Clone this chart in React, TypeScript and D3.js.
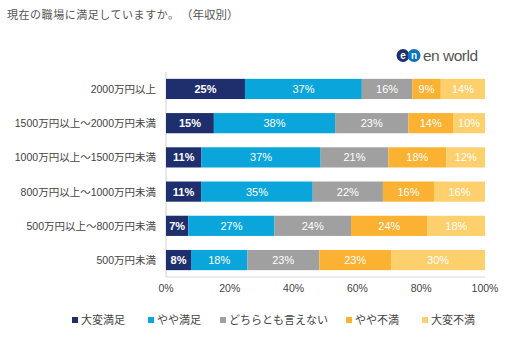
import React from "react";
import * as d3 from "d3";

const categories = [
  "2000万円以上",
  "1500万円以上～2000万円未満",
  "1000万円以上～1500万円未満",
  "800万円以上～1000万円未満",
  "500万円以上～800万円未満",
  "500万円未満",
];
const seriesNames = ["大変満足", "やや満足", "どちらとも言えない", "やや不満", "大変不満"];
const v1 = [25, 15, 11, 11, 7, 8];
const v2 = [37, 38, 37, 35, 27, 18];
const v3 = [16, 23, 21, 22, 24, 23];
const v4 = [9, 14, 18, 16, 24, 23];
const v5 = [14, 10, 12, 16, 18, 30];
const colors = ["#1f2f6e", "#0aa5db", "#a0a0a0", "#fbb131", "#fdd06d"];
const ticks = [0, 0.2, 0.4, 0.6, 0.8, 1];

const FONT = "'Liberation Sans', Arial, 'Noto Sans CJK JP', sans-serif";
const JFONT = "'Noto Sans CJK JP', sans-serif";

export default function App() {
  const W = 512, H = 355;
  const seriesVals = [v1, v2, v3, v4, v5];
  const rows = categories.map((c, i) => {
    const o: any = { cat: c };
    seriesNames.forEach((s, j) => (o[s] = seriesVals[j][i]));
    return o;
  });
  const stacked = d3.stack().keys(seriesNames).offset(d3.stackOffsetExpand)(rows);
  const x = d3.scaleLinear().domain([0, 1]).range([166, 485]);
  const y = d3.scaleBand().domain(categories).range([72, 277]).paddingInner(0.41).paddingOuter(0.2);

  const legendX = [72, 148, 220, 346, 422];

  return (
    <svg width={W} height={H} style={{ position: "absolute", left: 0, top: 0, background: "#fff" }} fontFamily={FONT}>
      <rect width={W} height={H} fill="#fff" />
      <text x={7} y={18.5} fontSize={11} fill="#555" fontFamily={JFONT} textLength={172} lengthAdjust="spacing">現在の職場に満足していますか。</text>
      <text x={181} y={18.5} fontSize={11.5} fill="#555" fontFamily={JFONT}>（年収別）</text>
      {/* logo */}
      <g>
        <circle cx={403} cy={55.5} r={6.5} fill="#1f2f6e" />
        <circle cx={414} cy={55.5} r={6.5} fill="#0a74c0" />
        <text x={403} y={59} fontSize={10} fontWeight="bold" fill="#fff" textAnchor="middle">e</text>
        <text x={414} y={59} fontSize={10} fontWeight="bold" fill="#fff" textAnchor="middle">n</text>
        <text x={423} y={61} fontSize={15.5} fill="#555" letterSpacing={-0.5}>en world</text>
      </g>
      {/* axis lines */}
      <line x1={166} x2={166} y1={72} y2={277} stroke="#d0d0d0" />
      <line x1={166} x2={485} y1={277} y2={277} stroke="#d9d9d9" />
      {stacked.map((s, si) => (
        <g key={si}>
          {s.map((d, i) => {
            const x0 = x(d[0]), x1 = x(d[1]);
            const yy = y(categories[i])!;
            const val = seriesVals[si][i];
            return (
              <g key={i}>
                <rect x={x0} y={yy} width={x1 - x0} height={y.bandwidth()} fill={colors[si]} />
                <text x={(x0 + x1) / 2} y={yy + y.bandwidth() / 2 + 4} fontSize={11} fill="#fff" textAnchor="middle"
                  fontWeight={si === 0 ? "bold" : "normal"}>{val}%</text>
              </g>
            );
          })}
        </g>
      ))}
      {categories.map((c) => (
        <text key={c} x={156} y={y(c)! + y.bandwidth() / 2 + 4} fontSize={10.5} fill="#444" textAnchor="end">{c}</text>
      ))}
      {ticks.map((t) => (
        <text key={t} x={x(t)} y={292} fontSize={10.5} fill="#444" textAnchor="middle">{d3.format(".0%")(t)}</text>
      ))}
      {seriesNames.map((s, i) => (
        <g key={s}>
          <rect x={legendX[i]} y={317} width={6} height={6} fill={colors[i]} />
          <text x={legendX[i] + 9} y={324} fontSize={11} fill="#444">{s}</text>
        </g>
      ))}
    </svg>
  );
}
